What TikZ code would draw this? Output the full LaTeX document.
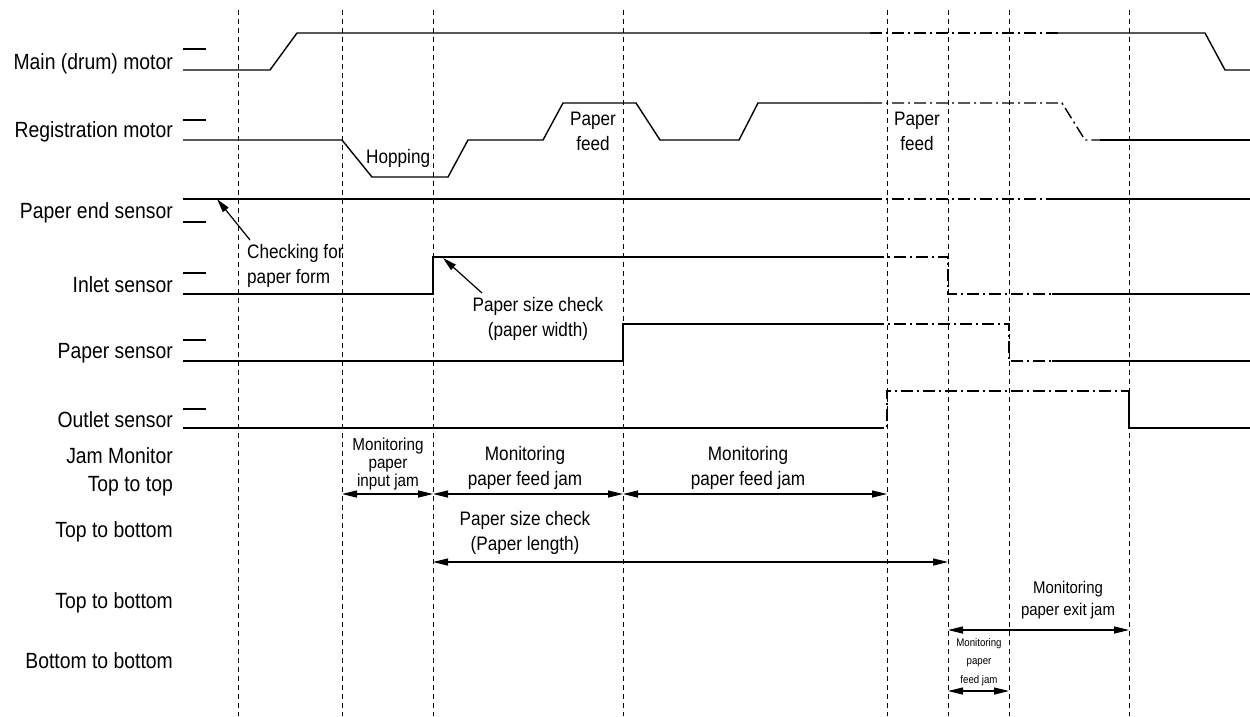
\documentclass[tikz,border=0pt]{standalone}
\usepackage{fontspec}
\setmainfont[FakeStretch=0.88]{Liberation Sans}
\usetikzlibrary{arrows.meta}
\begin{document}
\begin{tikzpicture}[x=1pt,y=-1pt,
  sig/.style={line width=1.4pt},
  dd/.style={line width=1.4pt, dash pattern=on 12pt off 4pt on 2pt off 4pt},
  vdash/.style={line width=1pt, dash pattern=on 5pt off 4pt},
  tickmark/.style={line width=1.2pt},
  lbl/.style={anchor=base east, inner sep=0pt, font=\fontsize{22}{26}\selectfont},
  mtxt/.style={inner sep=0pt, align=center, font=\fontsize{19.5}{25}\selectfont},
  stxt/.style={inner sep=0pt, align=center, font=\fontsize{17.3}{18}\selectfont},
  etxt/.style={inner sep=0pt, align=center, font=\fontsize{17}{22}\selectfont},
  ttxt/.style={inner sep=0pt, align=center, font=\fontsize{11}{18.3}\selectfont},
  dim/.style={line width=1.3pt, {Triangle[length=15pt,width=7pt]}-{Triangle[length=15pt,width=7pt]}},
  ann/.style={line width=1.2pt, -{Triangle[length=14pt,width=7pt]}}
]
\useasboundingbox (0,0) rectangle (1250,716);

% vertical dashed time markers
\foreach \x/\n in {238/a,342/b,433/c,623/d,887/e,948/f,1009/g,1129/h}{
  \coordinate (t\n) at (\x,10);
  \coordinate (b\n) at (\x,716);
  \draw[vdash] (t\n) -- (b\n);
}

% left labels
\node[lbl] (lmain) at (173,69) {Main (drum) motor};
\node[lbl] (lreg) at (173,137) {Registration motor};
\node[lbl] (lpend) at (173,218) {Paper end sensor};
\node[lbl] (linlet) at (173,292) {Inlet sensor};
\node[lbl] (lpsens) at (173,358) {Paper sensor};
\node[lbl] (lout) at (173,427) {Outlet sensor};
\node[lbl] (ljam) at (173,463) {Jam Monitor};
\node[lbl] (ltt) at (173,491) {Top to top};
\node[lbl] (ltb1) at (173,537) {Top to bottom};
\node[lbl] (ltb2) at (173,608) {Top to bottom};
\node[lbl] (lbb) at (173,668) {Bottom to bottom};

% ticks
\foreach \y in {49,120,222,273,340,409}{
  \draw[tickmark] (183,\y) -- (206,\y);
}

% Main (drum) motor
\draw[sig] (183,70) -- (270,70) -- (297,33) -- (870,33);
\draw[dd] (870,33) -- (1058,33);
\draw[sig] (1058,33) -- (1205,33) -- (1225,70) -- (1250,70);

% Registration motor
\draw[sig] (183,140) -- (342,140) -- (372,177) -- (448,177) -- (468,140) -- (543,140)
  -- (563,103) -- (636,103) -- (660,140) -- (739,140) -- (758,103) -- (870,103);
\draw[dd] (870,103) -- (1062,103) -- (1085,140) -- (1100,140);
\draw[sig] (1100,140) -- (1250,140);

% Paper end sensor
\draw[sig] (183,199) -- (870,199);
\draw[dd] (870,199) -- (1058,199);
\draw[sig] (1058,199) -- (1250,199);

% Inlet sensor
\draw[sig] (183,294) -- (433,294) -- (433,257) -- (872,257);
\draw[dd] (872,257) -- (948,257) -- (948,294) -- (1052,294);
\draw[sig] (1052,294) -- (1250,294);

% Paper sensor
\draw[sig] (183,361) -- (623,361) -- (623,324) -- (872,324);
\draw[dd] (872,324) -- (1009,324) -- (1009,361) -- (1052,361);
\draw[sig] (1052,361) -- (1250,361);

% Outlet sensor
\draw[sig] (183,428) -- (872,428);
\draw[dd] (872,428) -- (887,428) -- (887,391) -- (1129,391);
\draw[sig] (1129,391) -- (1129,428) -- (1250,428);

% waveform labels
\node[mtxt, anchor=base west] (hop) at (366,163) {Hopping};
\node[mtxt, anchor=base] (pf1) at (593,150) {Paper\\feed};
\node[mtxt, anchor=base] (pf2) at (917,150) {Paper\\feed};

% annotations
\node[mtxt, anchor=base west, align=left] (chk) at (247,283) {Checking for\\paper form};
\coordinate (chkt) at (250,240);
\coordinate (chkh) at (217,199);
\draw[ann] (chkt) -- (chkh);
\node[mtxt, anchor=base] (psw) at (538,336) {Paper size check\\(paper width)};
\coordinate (pswt) at (482,293);
\coordinate (pswh) at (443,258);
\draw[ann] (pswt) -- (pswh);

% jam monitor texts
\node[stxt, anchor=base] (mij) at (388,486) {Monitoring\\paper\\input jam};
\node[mtxt, anchor=base] (mfj1) at (525,485) {Monitoring\\paper feed jam};
\node[mtxt, anchor=base] (mfj2) at (748,485) {Monitoring\\paper feed jam};
\node[mtxt, anchor=base] (psl) at (525,550) {Paper size check\\(Paper length)};
\node[etxt, anchor=base] (mej) at (1068,615) {Monitoring\\paper exit jam};
\node[ttxt, anchor=base] (mfj3) at (979,683) {Monitoring\\paper\\feed jam};

% dimension arrows
\coordinate (r1b) at (342,494);
\coordinate (r1c) at (433,494);
\coordinate (r1d) at (623,494);
\coordinate (r1e) at (887,494);
\draw[dim] (r1b) -- (r1c);
\draw[dim] (r1c) -- (r1d);
\draw[dim] (r1d) -- (r1e);
\coordinate (r2c) at (433,562);
\coordinate (r2f) at (948,562);
\draw[dim] (r2c) -- (r2f);
\coordinate (r3f) at (948,630);
\coordinate (r3h) at (1129,630);
\draw[dim] (r3f) -- (r3h);
\coordinate (r4f) at (948,691);
\coordinate (r4g) at (1009,691);
\draw[dim] (r4f) -- (r4g);
\end{tikzpicture}
\end{document}
